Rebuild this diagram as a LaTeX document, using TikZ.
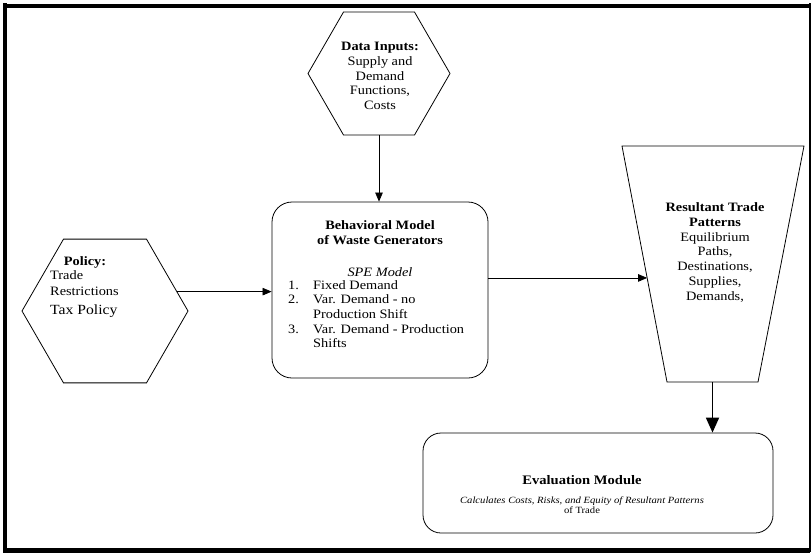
\documentclass[tikz,border=0pt]{standalone}
\usepackage{fontspec}
\setmainfont{Liberation Serif}[FakeStretch=1.12]
\usetikzlibrary{calc,shapes.geometric,arrows.meta}
\begin{document}
\begin{tikzpicture}[x=1pt,y=-1pt,
  hexa/.style={regular polygon, regular polygon sides=6, draw, inner sep=0pt, line width=0.8pt},
  rbox/.style={draw, line width=0.8pt, inner sep=0pt},
  shapeline/.style={line width=0.8pt, line join=miter},
  txt/.style={font=\fontsize{12.8}{14.7}\selectfont, inner sep=0pt},
  arr/.style={-{Triangle[length=9pt,width=7.5pt]}, line width=0.7pt},
  bigarr/.style={-{Triangle[length=15pt,width=13pt]}, line width=1.8pt},
  frame/.style={line width=4pt}]
\useasboundingbox (0,0) rectangle (811,555);
% frame
\draw[frame] (3,5.5) -- (810,5.5);
\draw[frame] (5,3) -- (5,552);
\draw[frame, line width=4.5pt] (3,550.5) -- (810,550.5);
\draw[line width=2pt] (809.5,3) -- (809.5,552);

% Data inputs
\node[hexa, minimum size=142pt] (data) at (379,73.5) {};
\node[txt, align=center] (datatext) at (380,76) {\textbf{Data Inputs:}\\Supply and\\Demand\\Functions,\\Costs};

% Policy
\node[hexa, minimum size=166pt] (pol) at (105,311) {};
\node[txt] (polhead) at (85,262) {\textbf{Policy:}};
\node[txt, anchor=west] (poltrade) at (50,275) {Trade};
\node[txt, anchor=west] (polrestr) at (50,291) {Restrictions};
\node[txt, anchor=west, font=\fontsize{14}{16}\selectfont] (poltax) at (50,311) {Tax Policy};

% Behavioral model
\node[rbox, rounded corners=20pt, minimum width=216pt, minimum height=176pt] (beh) at (380,290) {};
\node[txt, align=center] (behtitle) at (380,232.5) {\textbf{Behavioral Model}\\\textbf{of Waste Generators}};
\node[txt] (spe) at (380,272) {\textit{SPE Model}};
\node[txt, anchor=west] (behlist) at (288,315.5) {\begin{tabular}{@{}p{25pt}@{}l@{}}
1. & Fixed Demand\\
2. & Var. Demand - no\\
   & Production Shift\\
3. & Var. Demand - Production\\
   & Shifts
\end{tabular}};

% Resultant trade patterns (trapezoid)
\coordinate (tTL) at (622,146);
\coordinate (tTR) at (804,146);
\coordinate (tBR) at (758,382);
\coordinate (tBL) at (667,382);
\draw[shapeline] (tTL) -- (tTR) -- (tBR) -- (tBL) -- cycle;
\node[txt, align=center] (restext) at (715,252.5) {\textbf{Resultant Trade}\\\textbf{Patterns}\\Equilibrium\\Paths,\\Destinations,\\Supplies,\\Demands,};

% Evaluation module
\node[rbox, rounded corners=18pt, minimum width=350pt, minimum height=100pt] (eval) at (598,483) {};
\node[txt, font=\bfseries\fontsize{13}{15}\selectfont] (evaltitle) at (582,480) {Evaluation Module};
\node[txt, font=\fontsize{9.5}{10.5}\selectfont, align=center] (evaltext) at (582,505) {\textit{Calculates Costs, Risks, and Equity of Resultant Patterns}\\of Trade};

% connectors
\draw[arr] (data.south) -- (data.south |- beh.north);
\draw[arr] (pol.15.5) -- (pol.15.5 -| beh.west);
\coordinate (tin) at ($(tTL)!0.559!(tBL)$);
\draw[arr] (tin -| beh.east) -- (tin);
\coordinate (tbot) at ($(tBL)!0.5!(tBR)$);
\draw[bigarr] (tbot) -- (tbot |- eval.north);
\end{tikzpicture}
\end{document}
